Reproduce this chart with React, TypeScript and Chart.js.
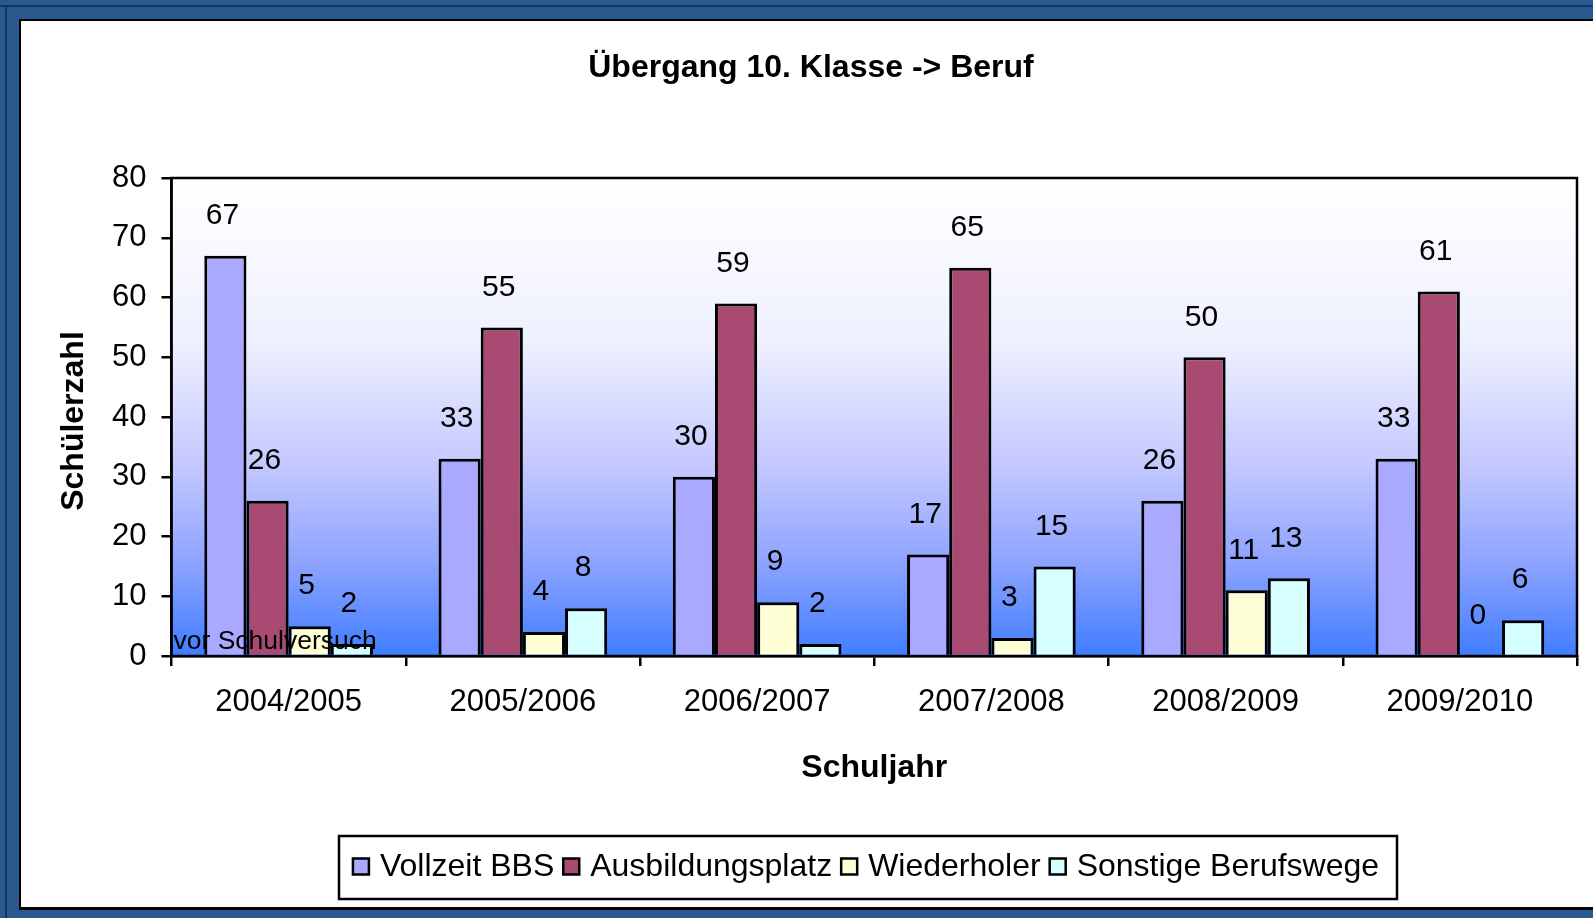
import React, { useEffect, useRef } from "react";
import { Chart, registerables } from "chart.js";

Chart.register(...registerables);

const categories = ["2004/2005", "2005/2006", "2006/2007", "2007/2008", "2008/2009", "2009/2010"];
const seriesNames = ["Vollzeit BBS", "Ausbildungsplatz", "Wiederholer", "Sonstige Berufswege"];
const vollzeitBBS = [67, 33, 30, 17, 26, 33];
const ausbildungsplatz = [26, 55, 59, 65, 50, 61];
const wiederholer = [5, 4, 9, 3, 11, 0];
const sonstige = [2, 8, 2, 15, 13, 6];
const seriesColors = ["#a9a9ff", "#a94a73", "#ffffd6", "#d6ffff"];
const yTicks = [0, 10, 20, 30, 40, 50, 60, 70, 80];

const chartTitle = "Übergang 10. Klasse -> Beruf";
const yTitle = "Schülerzahl";
const xTitle = "Schuljahr";
const noteText = "vor Schulversuch";

const FONT = '"Liberation Sans", Arial, sans-serif';

const W = 1593;
const H = 918;

const framePlugin = {
  id: "frame",
  beforeDraw(chart: any) {
    const ctx = chart.ctx;
    const ca = chart.chartArea;
    ctx.save();
    ctx.fillStyle = "#285a8f";
    ctx.fillRect(0, 0, W, H);
    ctx.fillStyle = "#17355a";
    ctx.fillRect(0, 5, W, 2);
    ctx.fillRect(5, 5, 2, H);
    ctx.fillStyle = "#000";
    ctx.fillRect(19, 19, W - 19, 910 - 19);
    ctx.fillStyle = "#fff";
    ctx.fillRect(21, 21, W - 21, 907 - 21);
    const g = ctx.createLinearGradient(0, ca.top, 0, ca.bottom);
    g.addColorStop(0, "#ffffff");
    g.addColorStop(0.35, "#eef0ff");
    g.addColorStop(0.6, "#c4c8ff");
    g.addColorStop(0.8, "#8fa4ff");
    g.addColorStop(1, "#3f7dff");
    ctx.fillStyle = g;
    ctx.fillRect(ca.left, ca.top, ca.right - ca.left, ca.bottom - ca.top);
    ctx.strokeStyle = "#000";
    ctx.lineWidth = 2.5;
    ctx.strokeRect(ca.left, ca.top, ca.right - ca.left, ca.bottom - ca.top);
    ctx.restore();
  },
};

const labelsPlugin = {
  id: "labelsAndText",
  afterDatasetsDraw(chart: any) {
    const ctx = chart.ctx;
    const ca = chart.chartArea;
    ctx.save();
    ctx.fillStyle = "#000";
    ctx.textAlign = "center";
    ctx.textBaseline = "middle";
    ctx.font = `30px ${FONT}`;
    chart.data.datasets.forEach((ds: any, i: number) => {
      const meta = chart.getDatasetMeta(i);
      meta.data.forEach((bar: any, j: number) => {
        ctx.fillText(String(ds.data[j]), bar.x - 3, bar.y - 40);
      });
    });
    // note
    ctx.textAlign = "left";
    ctx.font = `26.5px ${FONT}`;
    ctx.fillText(noteText, ca.left + 2, ca.bottom - 14);
    ctx.restore();
  },
  afterDraw(chart: any) {
    const ctx = chart.ctx;
    const ca = chart.chartArea;
    ctx.save();
    ctx.fillStyle = "#000";
    ctx.textBaseline = "middle";
    ctx.textAlign = "center";
    ctx.font = `bold 32px ${FONT}`;
    ctx.fillText(chartTitle, 811, 68);
    ctx.fillText(xTitle, (ca.left + ca.right) / 2, 768);
    ctx.save();
    ctx.translate(74, 421);
    ctx.rotate(-Math.PI / 2);
    ctx.fillText(yTitle, 0, 0);
    ctx.restore();

    // legend
    const lx0 = 339, ly0 = 836, lx1 = 1397, ly1 = 899;
    ctx.fillStyle = "#fff";
    ctx.fillRect(lx0, ly0, lx1 - lx0, ly1 - ly0);
    ctx.strokeStyle = "#000";
    ctx.lineWidth = 2.5;
    ctx.strokeRect(lx0, ly0, lx1 - lx0, ly1 - ly0);
    ctx.font = `32px ${FONT}`;
    ctx.textAlign = "left";
    const box = 16, gapAfterBox = 11, gapItems = 9;
    const widths = chart.data.datasets.map((ds: any) => ctx.measureText(ds.label).width);
    let total = 0;
    widths.forEach((w: number, i: number) => {
      total += box + gapAfterBox + w + (i < widths.length - 1 ? gapItems : 0);
    });
    let x = (lx0 + lx1) / 2 - total / 2 - 2;
    const cy = (ly0 + ly1) / 2 - 1;
    chart.data.datasets.forEach((ds: any, i: number) => {
      ctx.fillStyle = ds.backgroundColor;
      ctx.fillRect(x, cy - box / 2, box, box);
      ctx.strokeStyle = "#000";
      ctx.lineWidth = 2.5;
      ctx.strokeRect(x, cy - box / 2, box, box);
      ctx.fillStyle = "#000";
      ctx.fillText(ds.label, x + box + gapAfterBox, cy + 1);
      x += box + gapAfterBox + widths[i] + gapItems;
    });
    ctx.restore();
  },
};

export default function App() {
  const ref = useRef<HTMLCanvasElement | null>(null);
  useEffect(() => {
    if (!ref.current) return;
    const values = [vollzeitBBS, ausbildungsplatz, wiederholer, sonstige];
    const chart = new Chart(ref.current, {
      type: "bar",
      data: {
        labels: categories,
        datasets: seriesNames.map((name, i) => ({
          label: name,
          data: values[i],
          backgroundColor: seriesColors[i],
          borderColor: "#000",
          borderWidth: 3,
          categoryPercentage: 0.72,
          barPercentage: 1,
        })),
      },
      options: {
        responsive: false,
        animation: false,
        devicePixelRatio: 1,
        layout: { padding: { left: 0, top: 178, right: 16, bottom: 0 } },
        plugins: {
          legend: { display: false },
          title: { display: false },
          tooltip: { enabled: false },
        },
        scales: {
          x: {
            type: "category",
            grid: {
              display: true,
              drawOnChartArea: false,
              drawTicks: true,
              tickLength: 10,
              color: "#000",
              lineWidth: 2.5,
              offset: true,
            },
            border: { display: true, color: "#000", width: 2.5 },
            ticks: { color: "#000", font: { family: FONT, size: 31 }, padding: 18, maxRotation: 0 },
            afterFit: (s: any) => {
              s.height = 262;
            },
          },
          y: {
            min: 0,
            max: 80,
            afterBuildTicks: (s: any) => {
              s.ticks = yTicks.map((v) => ({ value: v }));
            },
            grid: {
              display: true,
              drawOnChartArea: false,
              drawTicks: true,
              tickLength: 10,
              color: "#000",
              lineWidth: 2.5,
            },
            border: { display: true, color: "#000", width: 2.5 },
            ticks: { color: "#000", font: { family: FONT, size: 31 }, padding: 15 },
            afterFit: (s: any) => {
              s.width = 171.5;
            },
          },
        },
      },
      plugins: [framePlugin, labelsPlugin],
    });
    return () => chart.destroy();
  }, []);
  return (
    <div style={{ position: "fixed", left: 0, top: 0, width: W, height: H }}>
      <canvas ref={ref} width={W} height={H} style={{ display: "block" }} />
    </div>
  );
}
